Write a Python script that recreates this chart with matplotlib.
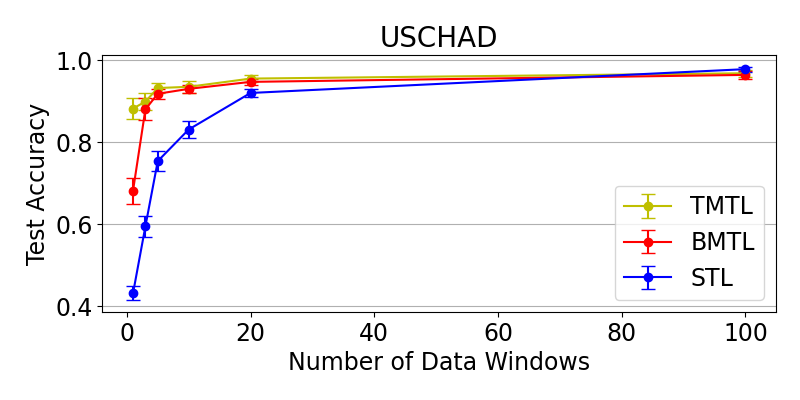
import matplotlib
matplotlib.use("Agg")
import matplotlib.pyplot as plt

windows = [1, 3, 5, 10, 20, 100]
tmtl = [0.882, 0.899, 0.932, 0.935, 0.955, 0.968]
tmtl_err = [0.026, 0.020, 0.012, 0.015, 0.008, 0.008]
bmtl = [0.682, 0.880, 0.918, 0.930, 0.947, 0.964]
bmtl_err = [0.032, 0.027, 0.012, 0.010, 0.008, 0.010]
stl = [0.432, 0.595, 0.754, 0.831, 0.920, 0.978]
stl_err = [0.017, 0.025, 0.024, 0.020, 0.010, 0.006]

plt.rcParams['font.size'] = 17
fig, ax = plt.subplots(figsize=(8, 4), dpi=100)
ax.errorbar(windows, tmtl, yerr=tmtl_err, color='y', marker='o', capsize=5, label='TMTL')
ax.errorbar(windows, bmtl, yerr=bmtl_err, color='r', marker='o', capsize=5, label='BMTL')
ax.errorbar(windows, stl, yerr=stl_err, color='b', marker='o', capsize=5, label='STL')
ax.set_title('USCHAD', fontsize=20)
ax.set_xlabel('Number of Data Windows')
ax.set_ylabel('Test Accuracy')
ax.set_yticks([0.4, 0.6, 0.8, 1.0])
ax.yaxis.grid(True, color='#b0b0b0')
ax.legend(loc='lower right')
fig.subplots_adjust(left=0.128, right=0.97, top=0.8625, bottom=0.22)
fig.savefig('out.png')
